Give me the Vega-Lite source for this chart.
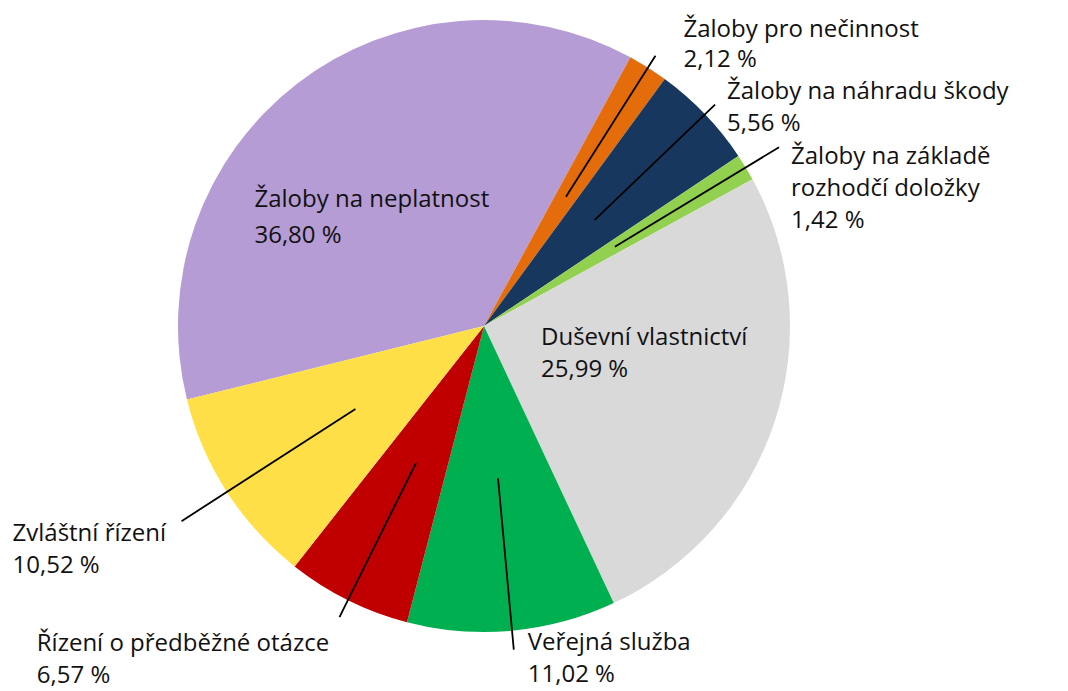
{
  "$schema": "https://vega.github.io/schema/vega-lite/v6.json",
  "width": 968,
  "height": 652,
  "autosize": {"type": "none"},
  "padding": {"left": 0, "top": 0, "right": 100, "bottom": 39},
  "background": "white",
  "config": {"view": {"stroke": null}, "text": {"font": "Open Sans", "fontSize": 24, "color": "#111111"}},
  "data": {"values": [
    {"kategorie": "Žaloby na neplatnost", "podil": 36.80, "popisek": "Žaloby na neplatnost\n36,80 %"},
    {"kategorie": "Žaloby pro nečinnost", "podil": 2.12, "popisek": "Žaloby pro nečinnost\n2,12 %"},
    {"kategorie": "Žaloby na náhradu škody", "podil": 5.56, "popisek": "Žaloby na náhradu škody\n5,56 %"},
    {"kategorie": "Žaloby na základě rozhodčí doložky", "podil": 1.42, "popisek": "Žaloby na základě\nrozhodčí doložky\n1,42 %"},
    {"kategorie": "Duševní vlastnictví", "podil": 25.99, "popisek": "Duševní vlastnictví\n25,99 %"},
    {"kategorie": "Veřejná služba", "podil": 11.02, "popisek": "Veřejná služba\n11,02 %"},
    {"kategorie": "Řízení o předběžné otázce", "podil": 6.57, "popisek": "Řízení o předběžné otázce\n6,57 %"},
    {"kategorie": "Zvláštní řízení", "podil": 10.52, "popisek": "Zvláštní řízení\n10,52 %"}
  ]},
  "transform": [
    {"stack": "podil", "groupby": [], "as": ["v0", "v1"]},
    {"calculate": "(datum.v0 + datum.v1) / 2", "as": "stred"}
  ],
  "layer": [
    {
      "mark": {"type": "arc", "radius": 306, "stroke": null},
      "encoding": {
        "theta": {"field": "v0", "type": "quantitative", "stack": null, "scale": {"type": "linear", "domain": [0, 100], "range": [4.4698, 10.7530]}},
        "theta2": {"field": "v1"},
        "color": {"field": "kategorie", "type": "nominal", "legend": null, "scale": {
          "domain": ["Žaloby na neplatnost", "Žaloby pro nečinnost", "Žaloby na náhradu škody", "Žaloby na základě rozhodčí doložky", "Duševní vlastnictví", "Veřejná služba", "Řízení o předběžné otázce", "Zvláštní řízení"],
          "range": ["#B59CD5", "#E46C0A", "#17375E", "#92D050", "#D9D9D9", "#00B050", "#C00000", "#FFDF47"]}}
      }
    },
    {
      "transform": [{"filter": {"field": "kategorie", "oneOf": ["Žaloby pro nečinnost", "Žaloby na náhradu škody"]}}],
      "mark": {"type": "arc", "radius": 320, "radius2": 153, "fillOpacity": 0, "stroke": "#000000", "strokeWidth": 1.8},
      "encoding": {"theta": {"field": "stred", "type": "quantitative", "stack": null}, "theta2": {"field": "stred"}}
    },
    {
      "transform": [{"filter": {"field": "kategorie", "equal": "Žaloby na základě rozhodčí doložky"}}],
      "mark": {"type": "arc", "radius": 345, "radius2": 153, "fillOpacity": 0, "stroke": "#000000", "strokeWidth": 1.8},
      "encoding": {"theta": {"field": "stred", "type": "quantitative", "stack": null}, "theta2": {"field": "stred"}}
    },
    {
      "transform": [{"filter": {"field": "kategorie", "equal": "Veřejná služba"}}],
      "mark": {"type": "arc", "radius": 325, "radius2": 153, "fillOpacity": 0, "stroke": "#000000", "strokeWidth": 1.8},
      "encoding": {"theta": {"field": "stred", "type": "quantitative", "stack": null}, "theta2": {"field": "stred"}}
    },
    {
      "transform": [{"filter": {"field": "kategorie", "equal": "Řízení o předběžné otázce"}}],
      "mark": {"type": "arc", "radius": 325, "radius2": 153, "fillOpacity": 0, "stroke": "#000000", "strokeWidth": 1.8},
      "encoding": {"theta": {"field": "stred", "type": "quantitative", "stack": null}, "theta2": {"field": "stred"}}
    },
    {
      "transform": [{"filter": {"field": "kategorie", "equal": "Zvláštní řízení"}}],
      "mark": {"type": "arc", "radius": 360, "radius2": 153, "fillOpacity": 0, "stroke": "#000000", "strokeWidth": 1.8},
      "encoding": {"theta": {"field": "stred", "type": "quantitative", "stack": null}, "theta2": {"field": "stred"}}
    },
    {
      "transform": [{"filter": {"field": "kategorie", "equal": "Žaloby pro nečinnost"}}],
      "mark": {"type": "text", "radius": 320, "align": "left", "baseline": "middle", "dx": 28, "dy": -26, "lineBreak": "\n", "lineHeight": 30},
      "encoding": {"theta": {"field": "stred", "type": "quantitative", "stack": null}, "text": {"field": "popisek"}}
    },
    {
      "transform": [{"filter": {"field": "kategorie", "equal": "Žaloby na náhradu škody"}}],
      "mark": {"type": "text", "radius": 320, "align": "left", "baseline": "middle", "dx": 12, "dy": -13, "lineBreak": "\n", "lineHeight": 32},
      "encoding": {"theta": {"field": "stred", "type": "quantitative", "stack": null}, "text": {"field": "popisek"}}
    },
    {
      "transform": [{"filter": {"field": "kategorie", "equal": "Žaloby na základě rozhodčí doložky"}}],
      "mark": {"type": "text", "radius": 345, "align": "left", "baseline": "middle", "dx": 12, "dy": 10, "lineBreak": "\n", "lineHeight": 32},
      "encoding": {"theta": {"field": "stred", "type": "quantitative", "stack": null}, "text": {"field": "popisek"}}
    },
    {
      "transform": [{"filter": {"field": "kategorie", "equal": "Duševní vlastnictví"}}],
      "mark": {"type": "text", "radius": 60, "align": "left", "baseline": "middle", "dx": 0, "dy": -7, "lineBreak": "\n", "lineHeight": 32},
      "encoding": {"theta": {"field": "stred", "type": "quantitative", "stack": null}, "text": {"field": "popisek"}}
    },
    {
      "transform": [{"filter": {"field": "kategorie", "equal": "Žaloby na neplatnost"}}],
      "mark": {"type": "text", "radius": 140, "align": "left", "baseline": "middle", "dx": -144, "dy": -15, "lineBreak": "\n", "lineHeight": 36},
      "encoding": {"theta": {"field": "stred", "type": "quantitative", "stack": null}, "text": {"field": "popisek"}}
    },
    {
      "transform": [{"filter": {"field": "kategorie", "equal": "Veřejná služba"}}],
      "mark": {"type": "text", "radius": 325, "align": "left", "baseline": "middle", "dx": 14, "dy": -7, "lineBreak": "\n", "lineHeight": 32},
      "encoding": {"theta": {"field": "stred", "type": "quantitative", "stack": null}, "text": {"field": "popisek"}}
    },
    {
      "transform": [{"filter": {"field": "kategorie", "equal": "Řízení o předběžné otázce"}}],
      "mark": {"type": "text", "radius": 340, "align": "left", "baseline": "middle", "dx": -296, "dy": 13, "lineBreak": "\n", "lineHeight": 32},
      "encoding": {"theta": {"field": "stred", "type": "quantitative", "stack": null}, "text": {"field": "popisek"}}
    },
    {
      "transform": [{"filter": {"field": "kategorie", "equal": "Zvláštní řízení"}}],
      "mark": {"type": "text", "radius": 360, "align": "left", "baseline": "middle", "dx": -169, "dy": 13, "lineBreak": "\n", "lineHeight": 32},
      "encoding": {"theta": {"field": "stred", "type": "quantitative", "stack": null}, "text": {"field": "popisek"}}
    }
  ]
}
